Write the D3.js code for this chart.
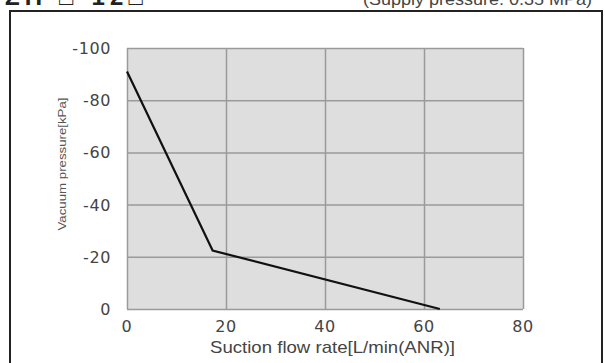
<!DOCTYPE html>
<html>
<head>
<meta charset="utf-8">
<script src="https://cdn.jsdelivr.net/npm/d3@7"></script>
<style>
  body { margin: 0; background: #fff; }
  svg { display: block; font-family: "Liberation Sans", Arial, sans-serif; }
</style>
</head>
<body>
<div id="chart"></div>
<script>
(function(){
    // data
    var flowRate = [0, 17.3, 63.2];
    var vacuum   = [-91, -22.4, 0];

    var xTicks = [0, 20, 40, 60, 80];
    var yTicks = [0, -20, -40, -60, -80, -100];

    var WIDTH  = 605,
        HEIGHT = 363,
        PLOT_L = 127,
        PLOT_R = 523,
        PLOT_T = 48,
        PLOT_B = 309;

    var svg = d3.select('#chart').append('svg')
        .attr('width', WIDTH)
        .attr('height', HEIGHT);

    // header text, partly cut off at the top like the scan
    svg.append('text')
        .attr('x', 5).attr('y', 5)
        .attr('font-size', 24).attr('font-weight', 'bold')
        .attr('fill', '#222')
        .attr('textLength', 138)
        .attr('lengthAdjust', 'spacing')
        .text('ZH \u25A1-12\u25A1');
    svg.append('text')
        .attr('x', 363).attr('y', 5)
        .attr('font-size', 17)
        .attr('fill', '#444')
        .attr('textLength', 229)
        .attr('lengthAdjust', 'spacingAndGlyphs')
        .text('(Supply pressure: 0.35 MPa)');

    // outer frame
    svg.append('path')
        .attr('d', 'M10,' + (HEIGHT + 2) + 'V11H602V' + (HEIGHT + 2))
        .attr('fill', 'none')
        .attr('stroke', '#222')
        .attr('stroke-width', 2);

    var x = d3.scaleLinear().domain([0, 80]).range([PLOT_L, PLOT_R]);
    var y = d3.scaleLinear().domain([0, -100]).range([PLOT_B, PLOT_T]);

    svg.append('rect')
        .attr('x', PLOT_L).attr('y', PLOT_T)
        .attr('width', PLOT_R - PLOT_L).attr('height', PLOT_B - PLOT_T)
        .attr('fill', '#dedede');

    // grid
    var gx = svg.append('g')
        .attr('transform', 'translate(0,' + PLOT_B + ')')
        .call(d3.axisBottom(x).tickValues(xTicks).tickSize(-(PLOT_B - PLOT_T)).tickFormat(''));
    var gy = svg.append('g')
        .attr('transform', 'translate(' + PLOT_L + ',0)')
        .call(d3.axisLeft(y).tickValues(yTicks).tickSize(-(PLOT_R - PLOT_L)).tickFormat(''));
    [gx, gy].forEach(function(g){
        g.select('.domain').remove();
        g.selectAll('line').attr('stroke', '#9a9a9a').attr('stroke-width', 1.5);
    });

    // tick labels
    svg.append('g').selectAll('text')
        .data(xTicks).enter().append('text')
        .attr('x', function(d){ return x(d); })
        .attr('y', 332)
        .attr('text-anchor', 'middle')
        .attr('font-family', '"DejaVu Sans", sans-serif')
        .attr('font-size', 16)
        .attr('letter-spacing', 0.6)
        .attr('fill', '#444')
        .text(function(d){ return d; });

    svg.append('g').selectAll('text')
        .data(yTicks).enter().append('text')
        .attr('x', 111)
        .attr('y', function(d){ return y(d) + 6; })
        .attr('text-anchor', 'end')
        .attr('font-family', '"DejaVu Sans", sans-serif')
        .attr('font-size', 16)
        .attr('letter-spacing', 0.6)
        .attr('fill', '#444')
        .text(function(d){ return d; });

    // axis titles
    svg.append('text')
        .attr('x', 210).attr('y', 353)
        .attr('font-size', 17)
        .attr('fill', '#444')
        .attr('textLength', 245)
        .attr('lengthAdjust', 'spacingAndGlyphs')
        .text('Suction flow rate[L/min(ANR)]');

    svg.append('text')
        .attr('transform', 'translate(66,164) rotate(-90)')
        .attr('text-anchor', 'middle')
        .attr('font-size', 11)
        .attr('fill', '#555')
        .attr('textLength', 133)
        .attr('lengthAdjust', 'spacingAndGlyphs')
        .text('Vacuum pressure[kPa]');

    // curve
    var pts = flowRate.map(function(f, i){ return [f, vacuum[i]]; });
    svg.append('path')
        .datum(pts)
        .attr('fill', 'none')
        .attr('stroke', '#111')
        .attr('stroke-width', 2.2)
        .attr('d', d3.line()
            .x(function(d){ return x(d[0]); })
            .y(function(d){ return y(d[1]); }));
})();
</script>
</body>
</html>
